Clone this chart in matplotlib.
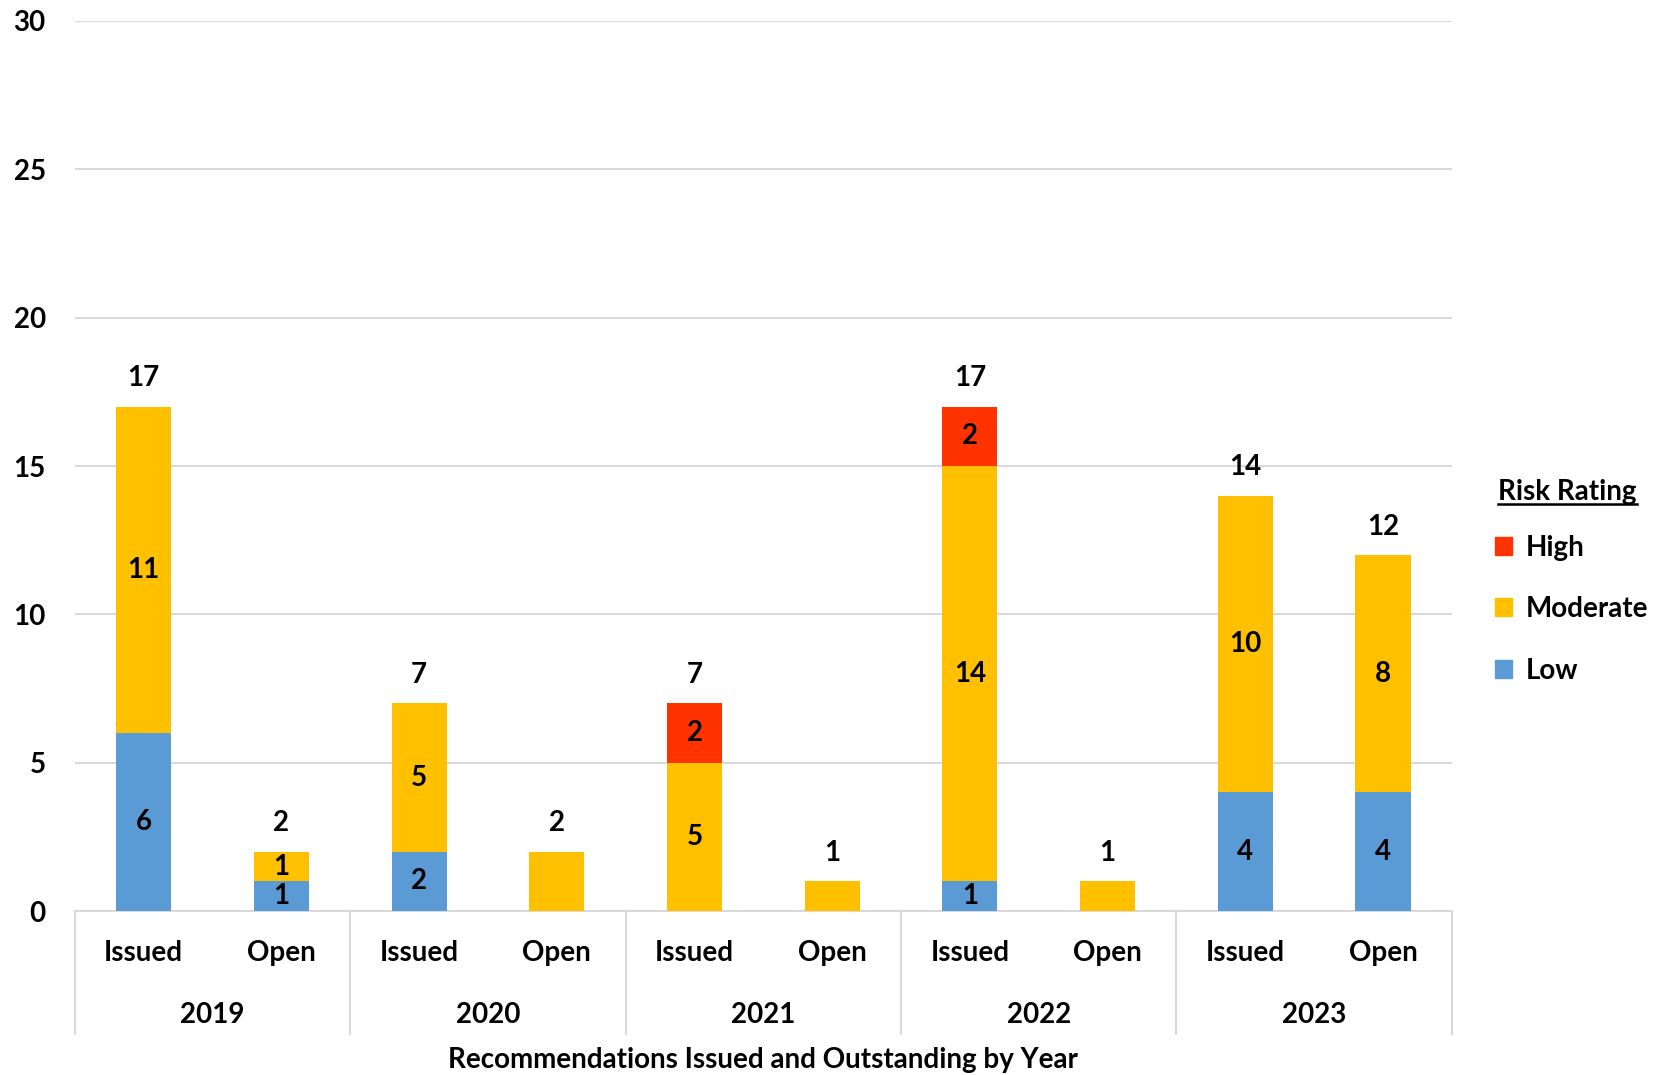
import matplotlib.pyplot as plt
from matplotlib.patches import Patch
from matplotlib.lines import Line2D
import matplotlib.transforms as mtransforms

plt.rcParams["font.family"] = ["Lato", "DejaVu Sans"]
plt.rcParams["font.weight"] = "bold"

years = ["2019", "2020", "2021", "2022", "2023"]
kinds = ["Issued", "Open"]
low = [6, 1, 2, 0, 0, 0, 1, 0, 4, 4]
moderate = [11, 1, 5, 2, 5, 1, 14, 1, 10, 8]
high = [0, 0, 0, 0, 2, 0, 2, 0, 0, 0]

COLORS = {"High": "#FF3300", "Moderate": "#FFC000", "Low": "#5B9BD5"}
GRID = "#D9D9D9"
FS = 20

fig = plt.figure(figsize=(16.69, 10.75), dpi=100)
ax = fig.add_axes([0.0449, 0.1525, 0.825, 0.828])

x = list(range(len(low)))
width = 0.4
series = [("Low", low), ("Moderate", moderate), ("High", high)]
# segment labels only appear on bars made of more than one rating
n_parts = [sum(1 for _, vals in series if vals[i]) for i in x]

bottom = [0] * len(x)
for name, vals in series:
    ax.bar(x, vals, width, bottom=bottom, color=COLORS[name], zorder=3)
    for xi, v, b in zip(x, vals, bottom):
        if v and n_parts[xi] > 1:
            ax.text(xi, b + v / 2, str(v), ha="center", va="center",
                    fontsize=FS, fontweight="bold", zorder=4)
    bottom = [b + v for b, v in zip(bottom, vals)]

for xi, tot in zip(x, bottom):
    ax.annotate(str(tot), (xi, tot), xytext=(0, 11), textcoords="offset points",
                ha="center", va="bottom", fontsize=FS, fontweight="bold")

ax.set_xlim(-0.5, len(x) - 0.5)
ax.set_ylim(0, 30)
ax.set_yticks(range(0, 31, 5))
ax.tick_params(axis="y", length=0, labelsize=FS, pad=21)
ax.tick_params(axis="x", length=0, labelbottom=False)
for lab in ax.get_yticklabels():
    lab.set_fontweight("bold")
ax.grid(axis="y", color=GRID, linewidth=1.5, zorder=0)
for s in ["top", "right", "left"]:
    ax.spines[s].set_visible(False)
ax.spines["bottom"].set_color(GRID)
ax.spines["bottom"].set_linewidth(1.5)

# two-level category axis
trans = mtransforms.blended_transform_factory(ax.transData, ax.transAxes)
for i in range(len(years) + 1):
    xs = -0.5 + 2 * i
    ax.add_line(Line2D([xs, xs], [0, -0.1376], transform=trans, color=GRID,
                       linewidth=1.5, clip_on=False))
for xi in x:
    ax.text(xi, -0.047, kinds[xi % 2], transform=trans, ha="center", va="center",
            fontsize=FS, fontweight="bold")
for i, yr in enumerate(years):
    ax.text(2 * i + 0.5, -0.1165, yr, transform=trans, ha="center", va="center",
            fontsize=FS, fontweight="bold")
ax.text(0.5, -0.1675, "Recommendations Issued and Outstanding by Year",
        transform=ax.transAxes, ha="center", va="center", fontsize=FS, fontweight="bold")

# legend
handles = [Patch(color=COLORS[n], label=n) for n in ["High", "Moderate", "Low"]]
leg = fig.legend(handles=handles, loc="upper left", bbox_to_anchor=(0.881, 0.526),
                 frameon=False, fontsize=FS, handlelength=0.6, handleheight=0.6,
                 handletextpad=0.5, labelspacing=1.28, alignment="left")
for t in leg.get_texts():
    t.set_fontweight("bold")

title = fig.text(0.8976, 0.542, "Risk Rating", ha="left", va="center",
                 fontsize=FS, fontweight="bold")
fig.canvas.draw()
bb = title.get_window_extent().transformed(fig.transFigure.inverted())
fig.add_artist(Line2D([bb.x0, bb.x1], [bb.y0 + 0.001, bb.y0 + 0.001],
                      transform=fig.transFigure, color="black", linewidth=1.8))

fig.savefig("out.png", dpi=100)
